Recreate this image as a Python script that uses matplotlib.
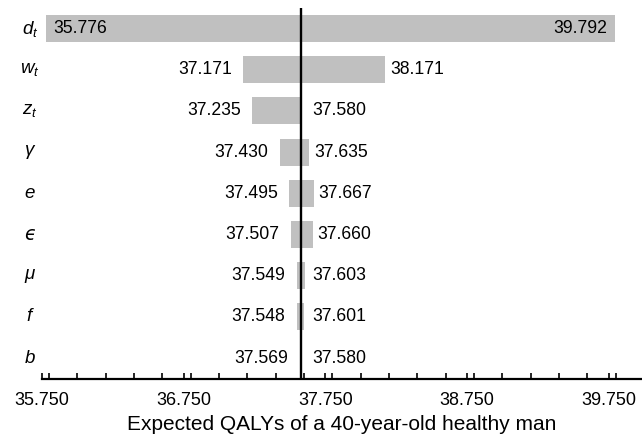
import matplotlib
matplotlib.use("Agg")
import matplotlib.pyplot as plt
from matplotlib.ticker import MultipleLocator, FixedLocator

plt.rcParams['font.family'] = ['Liberation Sans', 'DejaVu Sans']
plt.rcParams['mathtext.fontset'] = 'custom'
plt.rcParams['mathtext.it'] = 'Liberation Sans:italic'
plt.rcParams['mathtext.rm'] = 'Liberation Sans'

params = [r'$d_t$', r'$w_t$', r'$z_t$', r'$\gamma$', r'$e$', 'ϵ', r'$\mu$', r'$f$', r'$b$']
low = [35.776, 37.171, 37.235, 37.430, 37.495, 37.507, 37.549, 37.548, 37.569]
high = [39.792, 38.171, 37.580, 37.635, 37.667, 37.660, 37.603, 37.601, 37.580]
base = 37.58
xticks = [35.75, 36.75, 37.75, 38.75, 39.75]
xticklabels = ['35.750', '36.750', '37.750', '38.750', '39.750']
xlabel = 'Expected QALYs of a 40-year-old healthy man'

fig = plt.figure(figsize=(6.42, 4.46), dpi=100)
ax = fig.add_axes([0.0654, 0.1502, 0.9346, 0.8318])

xmin, xmax = 35.75, 39.985
n = len(params)
ypos = [n - i for i in range(n)]
bar_color = '#c0c0c0'
for y, lo, hi in zip(ypos, low, high):
    ax.barh(y, hi - lo, left=lo, height=0.655, color=bar_color, edgecolor='none', zorder=1)

ax.axvline(base, color='black', lw=1.7, zorder=3)

px_per_unit = 141.67
for y, lo, hi in zip(ypos, low, high):
    lo_s = f'{lo:.3f}'
    hi_s = f'{hi:.3f}'
    if lo - xmin < 0.3:
        ax.annotate(lo_s, (lo, y), xytext=(8, 0), textcoords='offset pixels',
                    ha='left', va='center', fontsize=12.7)
    else:
        ax.annotate(lo_s, (lo, y), xytext=(-11.5, 0), textcoords='offset pixels',
                    ha='right', va='center', fontsize=12.7)
    if xmax - hi < 0.5:
        ax.annotate(hi_s, (hi, y), xytext=(-7, 0), textcoords='offset pixels',
                    ha='right', va='center', fontsize=12.7)
    elif (hi - base) * px_per_unit < 6:
        ax.annotate(hi_s, (base, y), xytext=(11, 0), textcoords='offset pixels',
                    ha='left', va='center', fontsize=12.7)
    else:
        ax.annotate(hi_s, (hi, y), xytext=(5, 0), textcoords='offset pixels',
                    ha='left', va='center', fontsize=12.7)

for y, p in zip(ypos, params):
    if p.startswith('$'):
        ax.annotate(p, (xmin, y), xytext=(-12, 0), textcoords='offset pixels',
                    ha='center', va='center', fontsize=13.5, annotation_clip=False)
    else:
        ax.annotate(p, (xmin, y), xytext=(-12, 0), textcoords='offset pixels',
                    ha='center', va='center', fontsize=13.5, annotation_clip=False,
                    family='DejaVu Sans', fontstyle='italic')

ax.set_xlim(xmin, xmax)
ax.set_ylim(0.49, n + 0.5)
ax.set_yticks([])
for s in ['left', 'right', 'top']:
    ax.spines[s].set_visible(False)
ax.spines['bottom'].set_linewidth(1.6)
ax.xaxis.set_major_locator(FixedLocator(xticks))
ax.set_xticklabels(xticklabels, fontsize=13)
ax.xaxis.set_minor_locator(MultipleLocator(0.2))
ax.tick_params(axis='x', which='both', direction='in', length=4, width=1.2, pad=9)
ax.set_xlabel(xlabel, fontsize=15, labelpad=5)

fig.savefig('out.png', dpi=100)
